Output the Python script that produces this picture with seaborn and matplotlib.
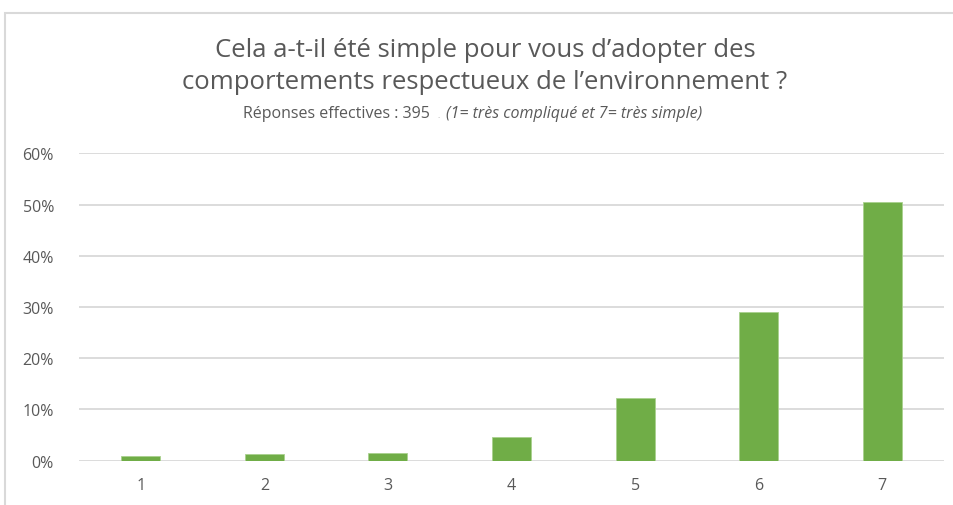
"""Bar chart: ease of adopting eco-friendly behaviours."""

import matplotlib.pyplot as plt
import pandas as pd
import seaborn as sns
from matplotlib.patches import Rectangle
from matplotlib.ticker import FuncFormatter, MultipleLocator

categories = ["1", "2", "3", "4", "5", "6", "7"]
shares = [0.010, 0.0125, 0.0145, 0.047, 0.122, 0.290, 0.505]

title = "Cela a-t-il été simple pour vous d\u2019adopter des\ncomportements respectueux de l\u2019environnement ?"
subtitle_main = "Réponses effectives : 395"
subtitle_note = "(1= très compliqué et 7= très simple)"

TEXT = "#595959"
GRID = "#D9D9D9"
GREEN = "#70AD47"

sns.set_theme(style="white")
plt.rcParams["font.family"] = ["Open Sans", "DejaVu Sans"]

df = pd.DataFrame({"note": categories, "share": shares})

fig = plt.figure(figsize=(9.54, 5.06), dpi=100)
W, H = 954, 506
ax = fig.add_axes([79 / W, (H - 461.7) / H, 865 / W, (461.7 - 154.3) / H])

sns.barplot(data=df, x="note", y="share", order=categories, color=GREEN,
            saturation=1, width=0.316, edgecolor="#A9D18E", linewidth=0.6, ax=ax)

ax.set_xlim(-0.5, 6.5)
ax.set_ylim(0, 0.6)
ax.yaxis.set_major_locator(MultipleLocator(0.1))
ax.yaxis.set_major_formatter(FuncFormatter(lambda v, _: f"{v * 100:.0f}%"))
ax.grid(axis="y", color=GRID, linewidth=1.3)
ax.set_axisbelow(True)
for s in ax.spines.values():
    s.set_visible(False)
ax.set_xlabel("")
ax.set_ylabel("")
ax.tick_params(axis="both", length=0, colors=TEXT, labelsize=11.5)
ax.tick_params(axis="x", pad=12)
ax.tick_params(axis="y", pad=18)

fig.text(485 / W, 1 - 66.5 / H, title, ha="center", va="center", fontsize=18.5,
         color=TEXT, linespacing=1.42)
fig.text(430 / W, 1 - 114 / H, subtitle_main, ha="right", va="center",
         fontsize=11.5, color=TEXT)
fig.text(439 / W, 1 - 116 / H, ".", ha="center", va="center",
         fontsize=6, color="#A6A6A6")
fig.text(446 / W, 1 - 114 / H, subtitle_note, ha="left", va="center",
         fontsize=11.5, color=TEXT, style="italic")

# frame of the chart area (cropped at right and bottom)
fig.patches.append(Rectangle((5 / W, -0.1), 1.2, 1 - 14 / H + 0.1,
                             transform=fig.transFigure, fill=False,
                             edgecolor=GRID, linewidth=1.5))

fig.savefig("out.png", dpi=100)
